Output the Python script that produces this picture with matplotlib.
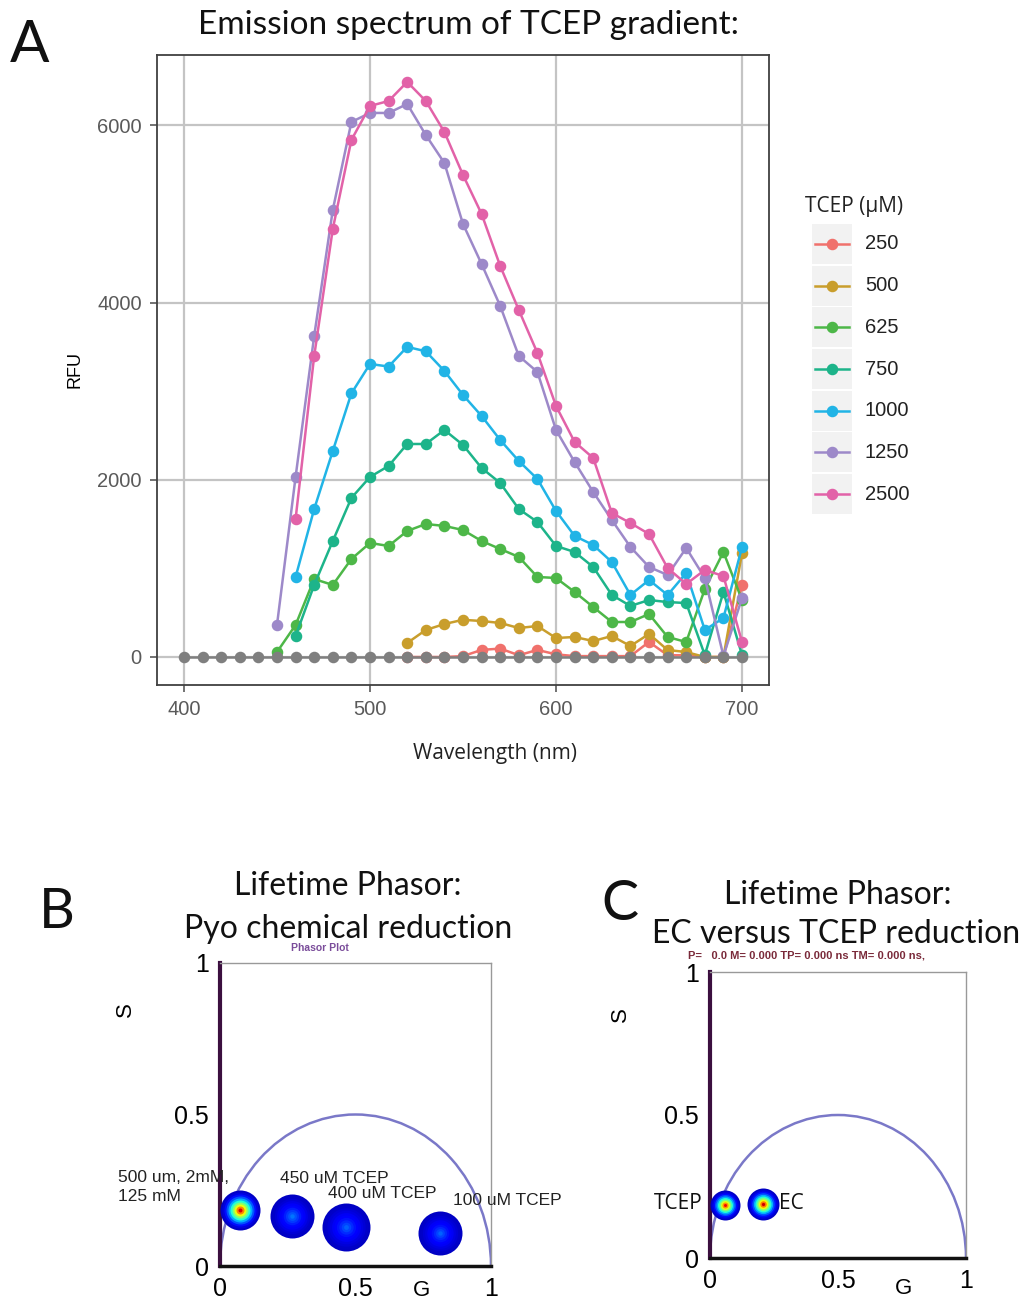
import matplotlib.pyplot as plt
from matplotlib.patches import Arc, Rectangle
from matplotlib import cm

# ---- Panel A data: emission spectra (RFU) ----
wl_all = list(range(400, 701, 10))
wl_450 = list(range(450, 701, 10))
wl_460 = list(range(460, 701, 10))
wl_520 = list(range(520, 701, 10))

rfu_250 = [0, 0, 0, 10, 80, 95, 20, 80, 30, 10, 10, 10, 10, 170, 20, 20, 0, 0, 810]
rfu_500 = [158, 305, 372, 420, 406, 384, 327, 350, 214, 226, 180, 237, 124, 260, 79, 56, 0, 0, 1174]
rfu_625 = [56, 361, 880, 813, 1106, 1287, 1253, 1422, 1501, 1479, 1433, 1309, 1219, 1129,
           903, 892, 734, 564, 395, 395, 485, 226, 169, 767, 1185, 643]
rfu_750 = [237, 813, 1309, 1795, 2032, 2156, 2404, 2404, 2562, 2393, 2133, 1964, 1670,
           1524, 1253, 1185, 1016, 700, 576, 643, 620, 609, 22, 734, 22]
rfu_1000 = [903, 1670, 2325, 2975, 3307, 3278, 3500, 3450, 3228, 2957, 2720, 2449, 2212,
            2009, 1648, 1366, 1264, 1072, 700, 869, 700, 948, 305, 440, 1241]
rfu_1250 = [361, 2032, 3623, 5045, 6038, 6140, 6140, 6241, 5891, 5575, 4887, 4435, 3962,
            3397, 3217, 2562, 2200, 1862, 1546, 1242, 1016, 925, 1230, 892, 11, 666]
rfu_2500 = [1557, 3397, 4831, 5835, 6219, 6275, 6490, 6275, 5925, 5440, 5000, 4413, 3916,
            3431, 2833, 2427, 2246, 1625, 1512, 1388, 1004, 824, 982, 914, 169]
rfu_gray = [0] * len(wl_all)

tcep_labels = ['250', '500', '625', '750', '1000', '1250', '2500']
tcep_colors = ['#F0716C', '#C99E2C', '#4DB748', '#1DB48A', '#21B4E6', '#9D89C9', '#E262A8']
series = [(wl_520, rfu_250), (wl_520, rfu_500), (wl_450, rfu_625), (wl_460, rfu_750),
          (wl_460, rfu_1000), (wl_450, rfu_1250), (wl_460, rfu_2500)]

# ---- Panel B / C data: phasor cluster centres (G, S), radius (px), peak colour level ----
b_g = [0.074, 0.266, 0.465, 0.81]
b_s = [0.185, 0.165, 0.129, 0.109]
b_rad = [20, 22, 24, 22]
b_peak = [0.92, 0.24, 0.22, 0.22]
b_labels = ['500 um, 2mM,\n125 mM', '450 uM TCEP', '400 uM TCEP', '100 uM TCEP']

c_g = [0.059, 0.207]
c_s = [0.185, 0.189]
c_rad = [15, 16]
c_peak = [0.9, 0.93]

fig = plt.figure(figsize=(10.22, 13.01), dpi=100)
W, H = 1022, 1301


def box(l, t, r, b):
    return [l / W, 1 - b / H, (r - l) / W, (b - t) / H]


title_font = 'Lato'

# ---------------- Panel A ----------------
ax = fig.add_axes(box(157, 55, 769, 685))
for (x, y), c in zip(series, tcep_colors):
    ax.plot(x, y, color=c, lw=1.8, marker='o', ms=7.3, zorder=3)
ax.plot(wl_all, rfu_gray, color='#7F7F7F', lw=1.8, marker='o', ms=7.3, zorder=4)
ax.set_xlim(385.5, 714.5)
ax.set_ylim(-316, 6794)
ax.set_xticks([400, 500, 600, 700])
ax.set_yticks([0, 2000, 4000, 6000])
ax.grid(True, color='#C4C4C4', lw=1.6)
ax.set_axisbelow(True)
for sp in ax.spines.values():
    sp.set_color('#404040')
    sp.set_linewidth(1.3)
ax.tick_params(colors='#5A5A5A', labelsize=14.5, length=5, width=1.2, pad=6)
for lab in ax.get_xticklabels() + ax.get_yticklabels():
    lab.set_fontfamily('Liberation Sans')
ax.set_ylabel('RFU', fontsize=13, family='Liberation Sans', labelpad=10)
fig.text(495 / W, 1 - 754 / H, 'Wavelength (nm)', ha='center', va='center',
         fontsize=15, family='Open Sans', color='#222222')
fig.text(468 / W, 1 - 25 / H, 'Emission spectrum of TCEP gradient:', ha='center',
         va='center', fontsize=24, family=title_font, color='#111111')
fig.text(30 / W, 1 - 45 / H, 'A', ha='center', va='center', fontsize=42,
         family=title_font, color='#111111')

# legend drawn manually
lg = fig.add_axes(box(795, 190, 945, 525))
lg.set_xlim(795, 945)
lg.set_ylim(525, 190)
lg.axis('off')
lg.text(805, 207, 'TCEP (\u00b5M)', ha='left', va='center', fontsize=15,
        family='Open Sans', color='#222222')
for i, (lab, c) in enumerate(zip(tcep_labels, tcep_colors)):
    yc = 244 + i * 41.7
    lg.add_patch(Rectangle((812, yc - 20), 40, 40, color='#F2F2F2', lw=0))
    lg.plot([815, 849], [yc, yc], color=c, lw=1.8)
    lg.plot([832], [yc], marker='o', color=c, ms=7.3)
    lg.text(865, yc, lab, ha='left', va='center', fontsize=14.5,
            family='Liberation Sans', color='#222222')


# ---------------- phasor helper ----------------
def phasor_axes(ax, gs, ss, rads, peaks):
    ax.set_xlim(0, 1)
    ax.set_ylim(0, 1)
    ax.add_patch(Arc((0.5, 0), 1.0, 1.0, theta1=0, theta2=180, color='#7A78C8', lw=1.8))
    for g, s, r, p in zip(gs, ss, rads, peaks):
        n = 10
        for k in range(n):
            frac = 1 - k / n
            lev = 0.06 + (p - 0.06) * (k / (n - 1)) ** 1.6
            d = 2 * r * frac * 0.72
            ax.scatter([g], [s], s=d ** 2, color=cm.jet(lev), lw=0, zorder=3 + k)
    ax.set_xticks([0, 0.5, 1])
    ax.set_xticklabels(['0', '0.5', '1'])
    ax.set_yticks([0, 0.5, 1])
    ax.set_yticklabels(['0', '0.5', '1'])
    ax.tick_params(length=0, labelsize=18, pad=8)
    for lab in ax.get_xticklabels() + ax.get_yticklabels():
        lab.set_fontfamily('Liberation Sans')
    ax.spines['left'].set_color('#3B0F3F')
    ax.spines['left'].set_linewidth(3)
    ax.spines['bottom'].set_color('#111111')
    ax.spines['bottom'].set_linewidth(2.5)
    for k in ['top', 'right']:
        ax.spines[k].set_color('#999999')
        ax.spines[k].set_linewidth(1)


# ---------------- Panel B ----------------
axb = fig.add_axes(box(220, 963, 491, 1266))
phasor_axes(axb, b_g, b_s, b_rad, b_peak)
axb.text(-0.375, 0.26, b_labels[0], ha='left', va='center', fontsize=12.5,
         family='Liberation Sans', color='#222222', linespacing=1.35)
axb.text(0.22, 0.29, b_labels[1], ha='left', va='center', fontsize=12.5,
         family='Liberation Sans', color='#222222')
axb.text(0.4, 0.24, b_labels[2], ha='left', va='center', fontsize=12.5,
         family='Liberation Sans', color='#222222')
axb.text(0.86, 0.215, b_labels[3], ha='left', va='center', fontsize=12.5,
         family='Liberation Sans', color='#222222', clip_on=False)
axb.text(0.37, 1.05, 'Phasor Plot', ha='center', va='center', fontsize=7.5,
         family='Liberation Sans', weight='bold', color='#7A4C9A')
fig.text(422 / W, 1 - 1291 / H, 'G', ha='center', va='center', fontsize=16,
         family='Liberation Sans')
fig.text(125 / W, 1 - 1010 / H, 'S', ha='center', va='center', fontsize=16,
         family='Liberation Sans', rotation=90)
fig.text(57 / W, 1 - 912 / H, 'B', ha='center', va='center', fontsize=40,
         family=title_font, color='#111111')
fig.text(348 / W, 1 - 886 / H, 'Lifetime Phasor:', ha='center', va='center',
         fontsize=23, family=title_font, color='#111111')
fig.text(348 / W, 1 - 929 / H, 'Pyo chemical reduction', ha='center', va='center',
         fontsize=23, family=title_font, color='#111111')

# ---------------- Panel C ----------------
axc = fig.add_axes(box(710, 972, 966, 1258))
phasor_axes(axc, c_g, c_s, c_rad, c_peak)
axc.text(-0.03, 0.19, 'TCEP', ha='right', va='center', fontsize=15,
         family='Open Sans', color='#111111')
axc.text(0.27, 0.19, 'EC', ha='left', va='center', fontsize=15,
         family='Open Sans', color='#111111')
fig.text(806 / W, 1 - 956 / H, 'P=   0.0 M= 0.000 TP= 0.000 ns TM= 0.000 ns,',
         ha='center', va='center', fontsize=8, family='Liberation Sans',
         weight='bold', color='#7A2A3A')
fig.text(903 / W, 1 - 1288 / H, 'G', ha='center', va='center', fontsize=16,
         family='Liberation Sans')
fig.text(620 / W, 1 - 1015 / H, 'S', ha='center', va='center', fontsize=16,
         family='Liberation Sans', rotation=90)
fig.text(620 / W, 1 - 905 / H, 'C', ha='center', va='center', fontsize=40,
         family=title_font, color='#111111')
fig.text(838 / W, 1 - 895 / H, 'Lifetime Phasor:', ha='center', va='center',
         fontsize=23, family=title_font, color='#111111')
fig.text(836 / W, 1 - 934 / H, 'EC versus TCEP reduction', ha='center', va='center',
         fontsize=23, family=title_font, color='#111111')

fig.savefig('out.png', dpi=100)
